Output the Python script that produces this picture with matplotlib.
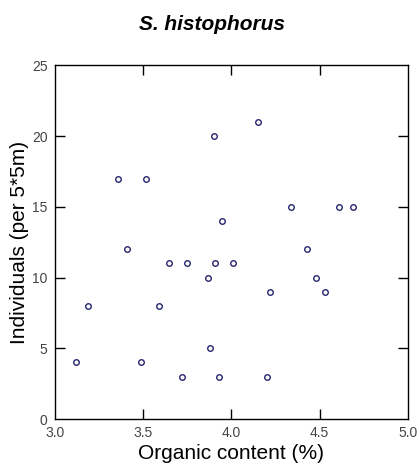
import matplotlib
matplotlib.use("Agg")
import matplotlib.pyplot as plt

# organic content (%) and individual counts per 5*5 m quadrat
organic = [3.12, 3.19, 3.36, 3.41, 3.49, 3.52, 3.59, 3.65, 3.72, 3.75, 3.87, 3.88, 3.90,
           3.91, 3.93, 3.95, 4.01, 4.15, 4.20, 4.22, 4.34, 4.43, 4.48, 4.53, 4.61, 4.69]
individuals = [4, 8, 17, 12, 4, 17, 8, 11, 3, 11, 10, 5, 20,
               11, 3, 14, 11, 21, 3, 9, 15, 12, 10, 9, 15, 15]

x_ticks = [3.0, 3.5, 4.0, 4.5, 5.0]
y_ticks = [0, 5, 10, 15, 20, 25]

plt.rcParams['font.family'] = ['Liberation Sans', 'DejaVu Sans']

fig = plt.figure(figsize=(4.2, 4.7), dpi=100)
ax = fig.add_axes([0.13, 0.1085, 0.841, 0.7525])

ax.plot(organic, individuals, linestyle='none', marker='o', markersize=4,
        markerfacecolor='white', markeredgecolor='#25256e', markeredgewidth=1.0)

ax.set_xlim(3.0, 5.0)
ax.set_ylim(0, 25)
ax.set_xticks(x_ticks)
ax.set_yticks(y_ticks)
ax.set_xticklabels([f"{v:.1f}" for v in x_ticks])
ax.set_yticklabels([str(v) for v in y_ticks])

ax.tick_params(direction='in', length=7, width=1, top=True, right=True,
               labelsize=10, labelcolor='#444444', pad=5)
for s in ax.spines.values():
    s.set_linewidth(1)

# end ticks sit on the frame, keep only their labels
for axis in (ax.xaxis, ax.yaxis):
    ticks = axis.get_major_ticks()
    for t in (ticks[0], ticks[-1]):
        t.tick1line.set_visible(False)
        t.tick2line.set_visible(False)

ax.set_xlabel("Organic content (%)", fontsize=15, labelpad=3)
ax.set_ylabel("Individuals (per 5*5m)", fontsize=15, labelpad=2)

fig.text(0.505, 0.948, "S. histophorus", ha='center', va='center',
         fontsize=15, fontweight='bold', fontstyle='italic')

fig.savefig("out.png", dpi=100)
